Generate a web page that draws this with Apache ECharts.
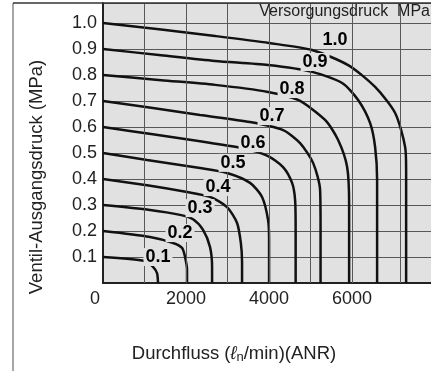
<!DOCTYPE html>
<html>
<head>
<meta charset="utf-8">
<script src="https://cdn.jsdelivr.net/npm/echarts@6/dist/echarts.min.js"></script>
<style>
	html, body { margin: 0; padding: 0; background: #fff; }
	#main { width: 431px; height: 371px; }
</style>
</head>
<body>
<div id="main"></div>
<script>
// Kennlinien: [Durchfluss l/min, Ausgangsdruck MPa]
const c01 = [[0, 0.1], [1012, 0.085], [1205, 0.062], [1301, 0.038], [1325, 0]];
const c02 = [[0, 0.2], [1133, 0.177], [1687, 0.154], [1904, 0.135], [1976, 0.1], [2024, 0.05], [2024, 0]];
const c03 = [[0, 0.3], [1133, 0.281], [1855, 0.262], [2169, 0.245], [2410, 0.204], [2578, 0.138], [2627, 0.06], [2627, 0]];
const c04 = [[0, 0.4], [1100, 0.375], [2024, 0.35], [2578, 0.331], [2988, 0.292], [3229, 0.231], [3320, 0.154], [3349, 0.08], [3349, 0]];
const c05 = [[0, 0.5], [1060, 0.473], [2337, 0.442], [2988, 0.423], [3542, 0.385], [3831, 0.331], [3976, 0.242], [4000, 0.165], [4000, 0]];
const c06 = [[0, 0.6], [1200, 0.572], [2337, 0.545], [3301, 0.52], [3952, 0.49], [4337, 0.446], [4554, 0.385], [4627, 0.319], [4640, 0.2], [4640, 0]];
const c07 = [[0, 0.7], [1200, 0.673], [2337, 0.646], [3542, 0.619], [4337, 0.588], [4747, 0.538], [5060, 0.462], [5229, 0.358], [5240, 0.2], [5240, 0]];
const c08 = [[0, 0.8], [1400, 0.78], [2699, 0.762], [3976, 0.735], [4699, 0.704], [5349, 0.627], [5663, 0.55], [5880, 0.446], [5928, 0.3], [5928, 0]];
const c09 = [[0, 0.9], [1400, 0.876], [2699, 0.854], [3976, 0.838], [5036, 0.812], [5759, 0.769], [6145, 0.704], [6434, 0.615], [6554, 0.523], [6602, 0.396], [6602, 0]];
const c10 = [[0, 1.0], [1400, 0.975], [2699, 0.95], [4000, 0.923], [5036, 0.896], [5904, 0.838], [6554, 0.754], [7036, 0.654], [7277, 0.523], [7301, 0.435], [7301, 0]];
const curves = [c01, c02, c03, c04, c05, c06, c07, c08, c09, c10];

// Beschriftung der Kurven (Versorgungsdruck)
const supplyNames = ['0.1', '0.2', '0.3', '0.4', '0.5', '0.6', '0.7', '0.8', '0.9', '1.0'];
const labelX = [1325, 1855, 2337, 2771, 3133, 3614, 4072, 4554, 5108, 5590];
const labelY = [0.1, 0.192, 0.288, 0.369, 0.462, 0.538, 0.642, 0.746, 0.85, 0.935];

// vertikale Gitterlinien
const xGrid = [1000, 2000, 3000, 4000, 5000, 6000, 7150];

const FONT = "'Liberation Sans', Arial, sans-serif";
const BG = '#e1e1e1';
const GRID = '#585858';

var myChart = echarts.init(document.getElementById('main'));

let series = curves.map(function (c, i) {
	return {
		name: supplyNames[i],
		type: 'line',
		data: c,
		smooth: 0.25,
		symbol: 'none',
		z: 3,
		lineStyle: { color: '#111', width: 2.5 }
	};
});

series.push({
	type: 'line',
	data: [],
	z: 1,
	markLine: {
		silent: true,
		symbol: 'none',
		label: { show: false },
		lineStyle: { color: GRID, width: 1, type: 'solid' },
		data: xGrid.map(function (v) { return { xAxis: v }; })
	}
});

series.push({
	type: 'scatter',
	symbolSize: 0,
	z: 5,
	silent: true,
	data: supplyNames.map(function (n, i) { return [labelX[i], labelY[i], n]; }),
	label: {
		show: true,
		position: 'inside',
		formatter: function (p) { return p.data[2]; },
		fontFamily: FONT,
		fontWeight: 'bold',
		fontSize: 18,
		color: '#000',
		textBorderWidth: 0,
		opacity: 1,
		backgroundColor: BG,
		padding: [0, 2]
	}
});

myChart.setOption({
	animation: false,
	grid: {
		left: 103,
		right: 0,
		top: 3,
		bottom: 88,
		show: true,
		backgroundColor: BG,
		borderWidth: 0
	},
	xAxis: {
		type: 'value',
		min: 0,
		max: 7900,
		interval: 1000,
		axisLine: { show: true, lineStyle: { color: '#222', width: 2 } },
		axisTick: { show: false },
		splitLine: { show: false },
		axisLabel: {
			showMaxLabel: false,
			margin: 7,
			fontFamily: FONT,
			fontSize: 18,
			color: '#222',
			formatter: function (v) {
				if (v === 0) return '{z|0}';
				return v % 2000 === 0 ? String(v) : '';
			},
			rich: {
				z: { fontFamily: FONT, fontSize: 18, color: '#222', padding: [0, 16, 0, 0] }
			}
		}
	},
	yAxis: {
		type: 'value',
		min: 0,
		max: 1.0769,
		interval: 0.1,
		axisLine: { show: true, lineStyle: { color: '#222', width: 2 } },
		axisTick: { show: false },
		splitLine: { show: true, lineStyle: { color: GRID, width: 1 } },
		axisLabel: {
			showMinLabel: false,
			showMaxLabel: false,
			margin: 6,
			fontFamily: FONT,
			fontSize: 18,
			color: '#222',
			formatter: function (v) { return v.toFixed(1); }
		}
	},
	graphic: [
		{ type: 'line', shape: { x1: 13, y1: 3, x2: 13, y2: 371 }, style: { stroke: '#888', lineWidth: 1.5 } },
		{ type: 'line', shape: { x1: 13, y1: 3, x2: 431, y2: 3 }, style: { stroke: '#333', lineWidth: 1.5 }, z: 10 },
		{
			type: 'text', x: 37, y: 177, rotation: Math.PI / 2,
			style: { text: 'Ventil-Ausgangsdruck (MPa)', font: '18.5px ' + FONT, fill: '#222', textAlign: 'center', textVerticalAlign: 'middle' }
		},
		{
			type: 'text', x: 234, y: 354,
			style: {
				text: 'Durchfluss ({l|ℓ}{n|n}/min)(ANR)',
				font: '18.5px ' + FONT, fill: '#222', textAlign: 'center', textVerticalAlign: 'middle',
				rich: {
					l: { fontSize: 18.5, fontStyle: 'italic', fontFamily: FONT, fill: '#222' },
					n: { fontSize: 13, fontFamily: FONT, fill: '#222', verticalAlign: 'bottom', padding: [6, 0, 0, 0] }
				}
			}
		},
		{
			type: 'text', x: 430, y: 12, z: 10,
			style: { text: 'Versorgungsdruck  MPa', font: '16px ' + FONT, fill: '#222', textAlign: 'right', textVerticalAlign: 'middle' }
		}
	],
	series: series
});
</script>
</body>
</html>
